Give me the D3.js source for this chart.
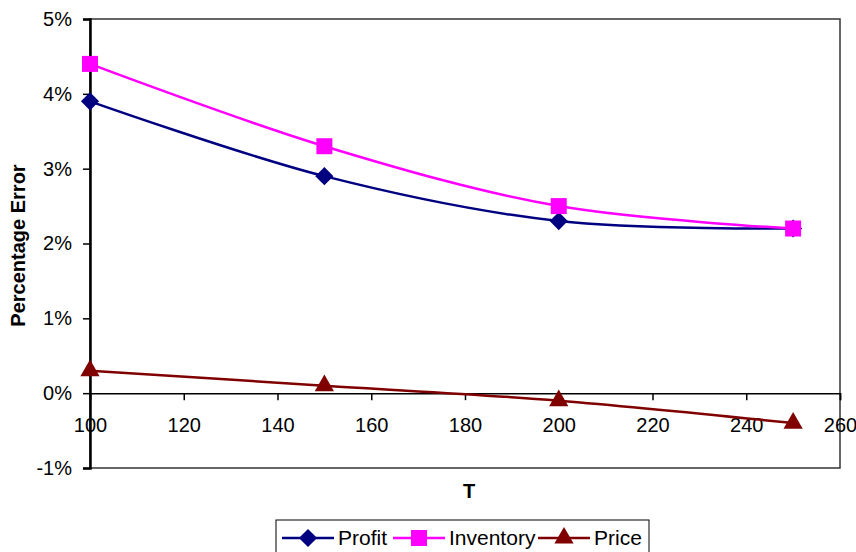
<!DOCTYPE html>
<html>
<head>
<meta charset="utf-8">
<script src="https://cdn.jsdelivr.net/npm/d3@7"></script>
<style>
  html, body { margin: 0; padding: 0; background: #fff; }
  svg { display: block; font-family: "Liberation Sans", Arial, sans-serif; }
</style>
</head>
<body>
<svg id="chart" width="856" height="552"></svg>
<script>
// Percentage error of the approximation against horizon length T
const tValues = [100, 150, 200, 250];
const profit = [0.039, 0.029, 0.023, 0.022];
const inventory = [0.044, 0.033, 0.025, 0.022];
const price = [0.003, 0.001, -0.001, -0.004];
const xTicks = [100, 120, 140, 160, 180, 200, 220, 240, 260];
const yTicks = [-0.01, 0, 0.01, 0.02, 0.03, 0.04, 0.05];
const seriesNames = ["Profit", "Inventory", "Price"];

const series = [
  { name: seriesNames[0], values: profit, color: "#000080", marker: "diamond" },
  { name: seriesNames[1], values: inventory, color: "#FF00FF", marker: "square" },
  { name: seriesNames[2], values: price, color: "#800000", marker: "triangle" }
];

const svg = d3.select("#chart");
const plot = { left: 90, right: 840, top: 19, bottom: 468 };
const FONT = "Liberation Sans, Arial, sans-serif";

const x = d3.scaleLinear().domain([100, 260]).range([plot.left, plot.right]);
const y = d3.scaleLinear().domain([-0.01, 0.05]).range([plot.bottom, plot.top]);

// plot frame
svg.append("rect")
  .attr("x", plot.left).attr("y", plot.top)
  .attr("width", plot.right - plot.left).attr("height", plot.bottom - plot.top)
  .attr("fill", "none").attr("stroke", "#333").attr("stroke-width", 1.5);

// y axis
const pct = d => Math.round(d * 100) + "%";
const yAxis = d3.axisLeft(y).tickValues(yTicks).tickFormat(pct).tickSize(7).tickPadding(11);
const gy = svg.append("g").attr("transform", `translate(${plot.left},0)`).call(yAxis);
gy.select(".domain").attr("stroke", "#000").attr("stroke-width", 2.5);
gy.selectAll(".tick line").attr("stroke", "#000").attr("stroke-width", 1.5);
gy.selectAll("text").attr("font-size", 20).attr("fill", "#000").attr("font-family", FONT);

// x axis drawn along 0%
const xAxis = d3.axisBottom(x).tickValues(xTicks).tickSize(7).tickPadding(18);
const gx = svg.append("g").attr("transform", `translate(0,${y(0)})`).call(xAxis);
gx.select(".domain").attr("stroke", "#000").attr("stroke-width", 1.5);
gx.selectAll(".tick line").attr("stroke", "#000").attr("stroke-width", 1.5);
gx.selectAll("text").attr("font-size", 20).attr("fill", "#000").attr("font-family", FONT);

// axis titles
svg.append("text")
  .attr("transform", `translate(25,${(plot.top + plot.bottom) / 2 + 2}) rotate(-90)`)
  .attr("text-anchor", "middle")
  .attr("font-size", 20).attr("font-weight", "bold")
  .text("Percentage Error");
svg.append("text")
  .attr("x", 469).attr("y", 498)
  .attr("text-anchor", "middle")
  .attr("font-size", 20).attr("font-weight", "bold")
  .text("T");

const symbolFor = {
  diamond: { gen: d3.symbol().type(d3.symbolSquare).size(165), rot: 45 },
  square: { gen: d3.symbol().type(d3.symbolSquare).size(256), rot: 0 },
  triangle: { gen: d3.symbol().type(d3.symbolTriangle).size(160), rot: 0 }
};

const line = d3.line()
  .x((d, i) => x(tValues[i]))
  .y(d => y(d))
  .curve(d3.curveCatmullRom.alpha(0.5));

series.forEach(s => {
  svg.append("path")
    .attr("d", line(s.values))
    .attr("fill", "none")
    .attr("stroke", s.color)
    .attr("stroke-width", 2.5);
  const m = symbolFor[s.marker];
  svg.selectAll(null)
    .data(s.values)
    .enter()
    .append("path")
    .attr("d", m.gen)
    .attr("transform", (d, i) => `translate(${x(tValues[i])},${y(d)}) rotate(${m.rot})`)
    .attr("fill", s.color);
});

// legend
const legend = svg.append("g");
legend.append("rect")
  .attr("x", 276).attr("y", 520).attr("width", 373).attr("height", 40)
  .attr("fill", "#fff").attr("stroke", "#000").attr("stroke-width", 1);

const legendX = [282, 393, 538];
const legendLineW = 52;
series.forEach((s, i) => {
  const g = legend.append("g").attr("transform", `translate(${legendX[i]},538)`);
  g.append("line").attr("x1", 0).attr("x2", legendLineW).attr("y1", 0).attr("y2", 0)
    .attr("stroke", s.color).attr("stroke-width", 2.5);
  const m = symbolFor[s.marker];
  g.append("path").attr("d", m.gen)
    .attr("transform", `translate(${legendLineW / 2},0) rotate(${m.rot})`).attr("fill", s.color);
  g.append("text").attr("x", legendLineW + 4).attr("y", 7)
    .attr("font-size", 21).attr("font-family", FONT).text(s.name);
});
</script>
</body>
</html>
